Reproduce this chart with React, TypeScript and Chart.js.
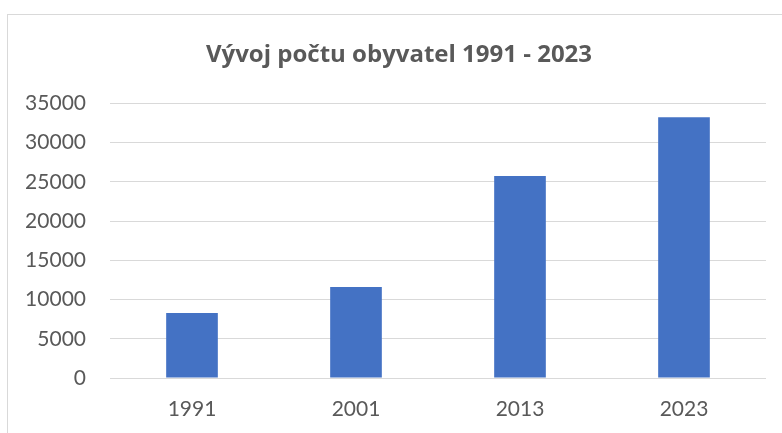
import React, { useEffect, useRef } from "react";
import { Chart, registerables } from "chart.js";

Chart.register(...registerables);

const chartTitle = "Vývoj počtu obyvatel 1991 - 2023";
const categories = ["1991", "2001", "2013", "2023"];
const population = [8270, 11580, 25750, 33220];
const yMin = 0;
const yMax = 35000;
const yStep = 5000;

const TEXT = "#595959";
const GRID = "#d9d9d9";
const BAR = "#4472C4";
const FONT = "Lato, 'Open Sans', sans-serif";
const TITLE_FONT = "'Open Sans', Lato, sans-serif";

const shiftTitle = {
  id: "shiftTitle",
  afterLayout(chart: any) {
    const t = chart.titleBlock;
    if (t) {
      t.left += 16;
      t.right += 16;
    }
  },
};

export default function App() {
  const ref = useRef<HTMLCanvasElement | null>(null);

  useEffect(() => {
    if (!ref.current) return;
    const chart = new Chart(ref.current, {
      type: "bar",
      data: {
        labels: categories,
        datasets: [
          {
            data: population,
            backgroundColor: BAR,
            borderWidth: 0,
            categoryPercentage: 0.315,
            barPercentage: 1,
          },
        ],
      },
      options: {
        responsive: false,
        animation: false,
        devicePixelRatio: 1,
        layout: { padding: { left: 0, right: 16, top: 0, bottom: 0 } },
        plugins: {
          legend: { display: false },
          tooltip: { enabled: false },
          title: {
            display: true,
            text: chartTitle,
            color: TEXT,
            font: { family: TITLE_FONT, size: 24, weight: "bold" },
            padding: { top: 40.7, bottom: 33.8 },
          },
        },
        scales: {
          x: {
            grid: { display: false, drawTicks: false },
            border: { display: false },
            ticks: {
              color: TEXT,
              font: { family: FONT, size: 21 },
              padding: 19,
            },
            afterFit: (s: any) => {
              s.height = 55;
            },
          },
          y: {
            min: yMin,
            max: yMax,
            ticks: {
              stepSize: yStep,
              color: TEXT,
              font: { family: FONT, size: 21 },
              padding: 24,
              callback: (v: any) => String(v),
            },
            grid: { color: GRID, drawTicks: false, lineWidth: 1 },
            border: { display: false },
            afterFit: (s: any) => {
              s.width = 110;
            },
          },
        },
      },
      plugins: [shiftTitle],
    });
    return () => chart.destroy();
  }, []);

  return (
    <div
      style={{
        position: "fixed",
        left: 0,
        top: 0,
        width: 782,
        height: 433,
        overflow: "hidden",
        background: "#fff",
      }}
    >
      <div
        style={{
          position: "absolute",
          left: 7,
          top: 14,
          width: 800,
          height: 440,
          border: "1px solid #d9d9d9",
          boxSizing: "border-box",
        }}
      />
      <canvas
        ref={ref}
        width={782}
        height={433}
        style={{ position: "absolute", left: 0, top: 0, display: "block" }}
      />
    </div>
  );
}
